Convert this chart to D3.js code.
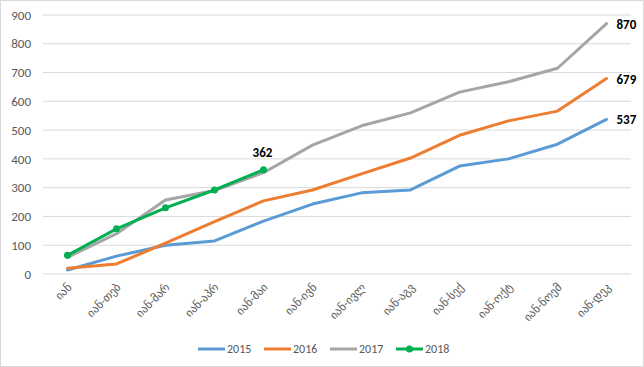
<!DOCTYPE html>
<html lang="ka">
<head>
<meta charset="utf-8">
<script src="https://cdn.jsdelivr.net/npm/d3@7"></script>
<style>
    body { margin: 0; background: #fff; }
    .axis text { font-family: "Calibri", "Carlito", "DejaVu Sans", sans-serif; fill: #595959; }
</style>
</head>
<body>
<script>
const months = ["იან", "იან-თებ", "იან-მარ", "იან-აპრ", "იან-მაი", "იან-ივნ",
                "იან-ივლ", "იან-აგვ", "იან-სექ", "იან-ოქტ", "იან-ნოემ", "იან-დეკ"];
const v2015 = [14, 62, 100, 115, 184, 243, 282, 292, 375, 400, 451, 537];
const v2016 = [20, 35, 107, 182, 254, 292, 348, 403, 482, 532, 566, 679];
const v2017 = [58, 140, 257, 290, 352, 448, 515, 560, 632, 668, 715, 870];
const v2018 = [65, 157, 230, 292, 362];
const yTicks = [0, 100, 200, 300, 400, 500, 600, 700, 800, 900];

const series = [
    {name: "2015", values: v2015, color: "#5B9BD5", marker: false},
    {name: "2016", values: v2016, color: "#ED7D31", marker: false},
    {name: "2017", values: v2017, color: "#A5A5A5", marker: false},
    {name: "2018", values: v2018, color: "#00B050", marker: true}
];

const w = 644, h = 367;
const padLeft = 43, padRight = 631, padTop = 15, padBottom = 274;

const svg = d3.select("body").append("svg")
    .attr("width", w).attr("height", h);

svg.append("rect")
    .attr("x", 0.5).attr("y", 0.5)
    .attr("width", w - 1).attr("height", h - 1)
    .attr("fill", "#fff").attr("stroke", "#d9d9d9");

const x = d3.scaleBand().domain(months).range([padLeft, padRight]);
const y = d3.scaleLinear().domain([0, 900]).range([padBottom, padTop]);
const cx = (i) => x(months[i]) + x.bandwidth() / 2;

// grid
svg.append("g")
    .selectAll("line")
    .data(yTicks)
    .enter()
    .append("line")
    .attr("x1", padLeft).attr("x2", padRight)
    .attr("y1", (d) => y(d)).attr("y2", (d) => y(d))
    .attr("stroke", "#d9d9d9").attr("stroke-width", 1);

// y axis
const yAxis = d3.axisLeft(y).tickValues(yTicks).tickSize(0).tickPadding(12);
const gy = svg.append("g")
    .attr("class", "axis")
    .attr("transform", "translate(" + padLeft + ",0)")
    .call(yAxis);
gy.select(".domain").remove();
gy.selectAll("text").attr("font-size", "13px");

// x axis
const xAxis = d3.axisBottom(x).tickSize(0).tickPadding(0);
const gx = svg.append("g")
    .attr("class", "axis")
    .attr("transform", "translate(0," + padBottom + ")")
    .call(xAxis);
gx.select(".domain").remove();
gx.selectAll("text")
    .attr("font-family", "DejaVu Sans, sans-serif")
    .attr("font-size", "11.5px")
    .attr("text-anchor", "end")
    .attr("dy", 0)
    .attr("transform", "translate(5,14) rotate(-45)");

// lines
const line = d3.line()
    .x((d, i) => cx(i))
    .y((d) => y(d));

series.forEach((s) => {
    svg.append("path")
        .datum(s.values)
        .attr("d", line)
        .attr("fill", "none")
        .attr("stroke", s.color)
        .attr("stroke-width", 3)
        .attr("stroke-linejoin", "round")
        .attr("stroke-linecap", "round");
    if (s.marker) {
        svg.selectAll(".m" + s.name)
            .data(s.values)
            .enter()
            .append("circle")
            .attr("cx", (d, i) => cx(i))
            .attr("cy", (d) => y(d))
            .attr("r", 3.5)
            .attr("fill", s.color);
    }
});

// data labels
const labelFont = "Calibri, Carlito, Liberation Sans, sans-serif";
[v2015, v2016, v2017].forEach((vals) => {
    const i = vals.length - 1;
    svg.append("text")
        .attr("x", cx(i) + 10)
        .attr("y", y(vals[i]) + 5)
        .attr("font-family", labelFont)
        .attr("font-weight", "bold")
        .attr("font-size", "13px")
        .attr("fill", "#000")
        .text(vals[i]);
});
{
    const i = v2018.length - 1;
    svg.append("text")
        .attr("x", cx(i) - 1)
        .attr("y", y(v2018[i]) - 13)
        .attr("text-anchor", "middle")
        .attr("font-family", labelFont)
        .attr("font-weight", "bold")
        .attr("font-size", "13px")
        .attr("fill", "#000")
        .text(v2018[i]);
}

// legend
const legend = svg.append("g").attr("transform", "translate(198,349)");
const lg = legend.selectAll("g")
    .data(series)
    .enter()
    .append("g")
    .attr("transform", (d, i) => "translate(" + (i * 66) + ",0)");
lg.append("line")
    .attr("x1", 0).attr("x2", 27)
    .attr("stroke", (d) => d.color)
    .attr("stroke-width", 3);
lg.filter((d) => d.marker)
    .append("circle")
    .attr("cx", 13.5).attr("r", 3.5)
    .attr("fill", (d) => d.color);
lg.append("text")
    .attr("x", 29).attr("y", 4)
    .attr("font-family", labelFont)
    .attr("font-size", "12px")
    .attr("fill", "#595959")
    .text((d) => d.name);
</script>
</body>
</html>
